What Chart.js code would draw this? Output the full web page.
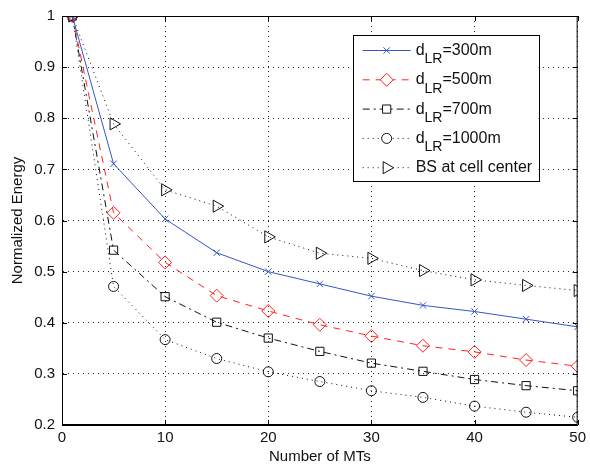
<!DOCTYPE html>
<html>
<head>
<meta charset="utf-8">
<script src="https://cdn.jsdelivr.net/npm/chart.js@4/dist/chart.umd.min.js"></script>
<style>
  html, body { margin: 0; padding: 0; background: #fff; }
</style>
</head>
<body>
<canvas id="energy_chart" width="590" height="466"></canvas>
<script>
// data
const num_mts = [1, 5, 10, 15, 20, 25, 30, 35, 40, 45, 50];
const d300 = [1, 0.711, 0.603, 0.537, 0.500, 0.476, 0.452, 0.434, 0.422, 0.407, 0.392];
const d500 = [1, 0.615, 0.518, 0.453, 0.423, 0.396, 0.374, 0.355, 0.343, 0.327, 0.315];
const d700 = [1, 0.542, 0.451, 0.401, 0.370, 0.344, 0.321, 0.305, 0.289, 0.277, 0.267];
const d1000 = [1, 0.471, 0.367, 0.330, 0.304, 0.285, 0.267, 0.254, 0.237, 0.225, 0.215];
const bs_center = [1, 0.789, 0.660, 0.628, 0.568, 0.536, 0.526, 0.502, 0.484, 0.473, 0.463];

// legend text: main part, subscript, rest
const legend_main = ["d", "d", "d", "d", "BS at cell center"];
const legend_sub = ["LR", "LR", "LR", "LR", ""];
const legend_rest = ["=300m", "=500m", "=700m", "=1000m", ""];

const x_ticks = [0, 10, 20, 30, 40, 50];
const y_ticks = [0.2, 0.3, 0.4, 0.5, 0.6, 0.7, 0.8, 0.9, 1];

const FONT = "'Liberation Sans', Arial, sans-serif";

function toPoints(values) {
    return values.map((v, i) => ({ x: num_mts[i], y: v }));
}

const series = [
    { data: d300, color: "#3557c4", dash: [], style: "crossRot", radius: 4.5, rotation: 0 },
    { data: d500, color: "#ff2424", dash: [7, 6], style: "rectRot", radius: 6.5, rotation: 0 },
    { data: d700, color: "#111", dash: [7, 4, 2, 4], style: "rect", radius: 5.8, rotation: 0 },
    { data: d1000, color: "#111", dash: [1, 4], style: "circle", radius: 5, rotation: 0 },
    { data: bs_center, color: "#111", dash: [1, 4], style: "triangle", radius: 7, rotation: 90 },
];

const datasets = series.map((s, i) => ({
    label: legend_main[i] + legend_sub[i] + legend_rest[i],
    data: toPoints(s.data),
    borderColor: s.color,
    borderWidth: 1,
    borderDash: s.dash,
    backgroundColor: "rgba(0,0,0,0)",
    pointStyle: s.style,
    pointRadius: s.radius,
    pointRotation: s.rotation,
    pointBorderColor: s.color,
    pointBackgroundColor: "rgba(0,0,0,0)",
    pointBorderWidth: 1,
    tension: 0,
}));

// box round the axes + inward ticks
const framePlugin = {
    id: "frame",
    afterDraw(chart) {
        const { ctx, chartArea: a, scales } = chart;
        ctx.save();
        ctx.strokeStyle = "#000";
        ctx.lineWidth = 1;
        ctx.setLineDash([]);
        ctx.strokeRect(a.left + 0.5, a.top + 0.5, a.right - a.left - 1, a.bottom - a.top - 1);
        ctx.beginPath();
        x_ticks.forEach((t) => {
            const px = Math.round(scales.x.getPixelForValue(t)) + 0.5;
            ctx.moveTo(px, a.bottom); ctx.lineTo(px, a.bottom - 5);
            ctx.moveTo(px, a.top); ctx.lineTo(px, a.top + 5);
        });
        y_ticks.forEach((t) => {
            const py = Math.round(scales.y.getPixelForValue(t)) + 0.5;
            ctx.moveTo(a.left, py); ctx.lineTo(a.left + 5, py);
            ctx.moveTo(a.right, py); ctx.lineTo(a.right - 5, py);
        });
        ctx.stroke();
        ctx.restore();
    },
};

// matlab-like legend with subscripts
const legendPlugin = {
    id: "matlabLegend",
    afterDraw(chart) {
        const { ctx, chartArea: a } = chart;
        const right = a.right - 39, top = a.top + 19;
        const w = 186, h = 146;
        const left = right - w;
        ctx.save();
        ctx.fillStyle = "#fff";
        ctx.fillRect(left, top, w, h);
        ctx.strokeStyle = "#000";
        ctx.lineWidth = 1;
        ctx.setLineDash([]);
        ctx.strokeRect(Math.round(left) + 0.5, Math.round(top) + 0.5, w, h);

        series.forEach((s, i) => {
            const y = top + 15.5 + i * 29.3;
            ctx.strokeStyle = s.color;
            ctx.setLineDash(s.dash);
            ctx.beginPath();
            ctx.moveTo(left + 10, y);
            ctx.lineTo(left + 58, y);
            ctx.stroke();
            ctx.setLineDash([]);
            ctx.fillStyle = "#fff";
            ctx.strokeStyle = s.color;
            Chart.helpers.drawPoint(ctx, {
                pointStyle: s.style,
                radius: s.radius,
                rotation: s.rotation,
                borderWidth: 1,
            }, left + 34, y);

            ctx.fillStyle = "#111";
            ctx.textBaseline = "middle";
            ctx.font = "16px " + FONT;
            let x = left + 63;
            ctx.fillText(legend_main[i], x, y);
            x += ctx.measureText(legend_main[i]).width;
            if (legend_sub[i]) {
                ctx.font = "14px " + FONT;
                ctx.fillText(legend_sub[i], x, y + 9);
                x += ctx.measureText(legend_sub[i]).width;
                ctx.font = "16px " + FONT;
                ctx.fillText(legend_rest[i], x, y);
            }
        });
        ctx.restore();
    },
};

Chart.defaults.font.family = FONT;
Chart.defaults.color = "#111";

const ctx = document.getElementById("energy_chart").getContext("2d");
const energy_chart = new Chart(ctx, {
    type: "line",
    data: { datasets: datasets },
    options: {
        responsive: false,
        animation: false,
        layout: { padding: { top: 14, right: 8, left: 0, bottom: 0 } },
        plugins: {
            legend: { display: false },
            tooltip: { enabled: false },
        },
        scales: {
            x: {
                type: "linear",
                min: 0,
                max: 50,
                afterBuildTicks: (scale) => { scale.ticks = x_ticks.map((v) => ({ value: v })); },
                afterFit: (scale) => { scale.height = 41; },
                grid: { color: "#222", drawTicks: false },
                border: { display: true, color: "#000", dash: [1, 4] },
                ticks: { font: { size: 15 }, padding: 4, color: "#111" },
                title: { display: true, text: "Number of MTs", font: { size: 15 }, padding: { top: 0, bottom: 0 }, color: "#111" },
            },
            y: {
                type: "linear",
                min: 0.2,
                max: 1,
                afterBuildTicks: (scale) => { scale.ticks = y_ticks.map((v) => ({ value: v })); },
                afterFit: (scale) => { scale.width = 62; },
                grid: { color: "#222", drawTicks: false },
                border: { display: true, color: "#000", dash: [1, 4] },
                ticks: {
                    font: { size: 15 },
                    padding: 7,
                    color: "#111",
                    callback: (v) => (v === 1 ? "1" : v.toFixed(1)),
                },
                title: { display: true, text: "Normalized Energy", font: { size: 15 }, padding: { top: 9, bottom: 0 }, color: "#111" },
            },
        },
    },
    plugins: [framePlugin, legendPlugin],
});
</script>
</body>
</html>
